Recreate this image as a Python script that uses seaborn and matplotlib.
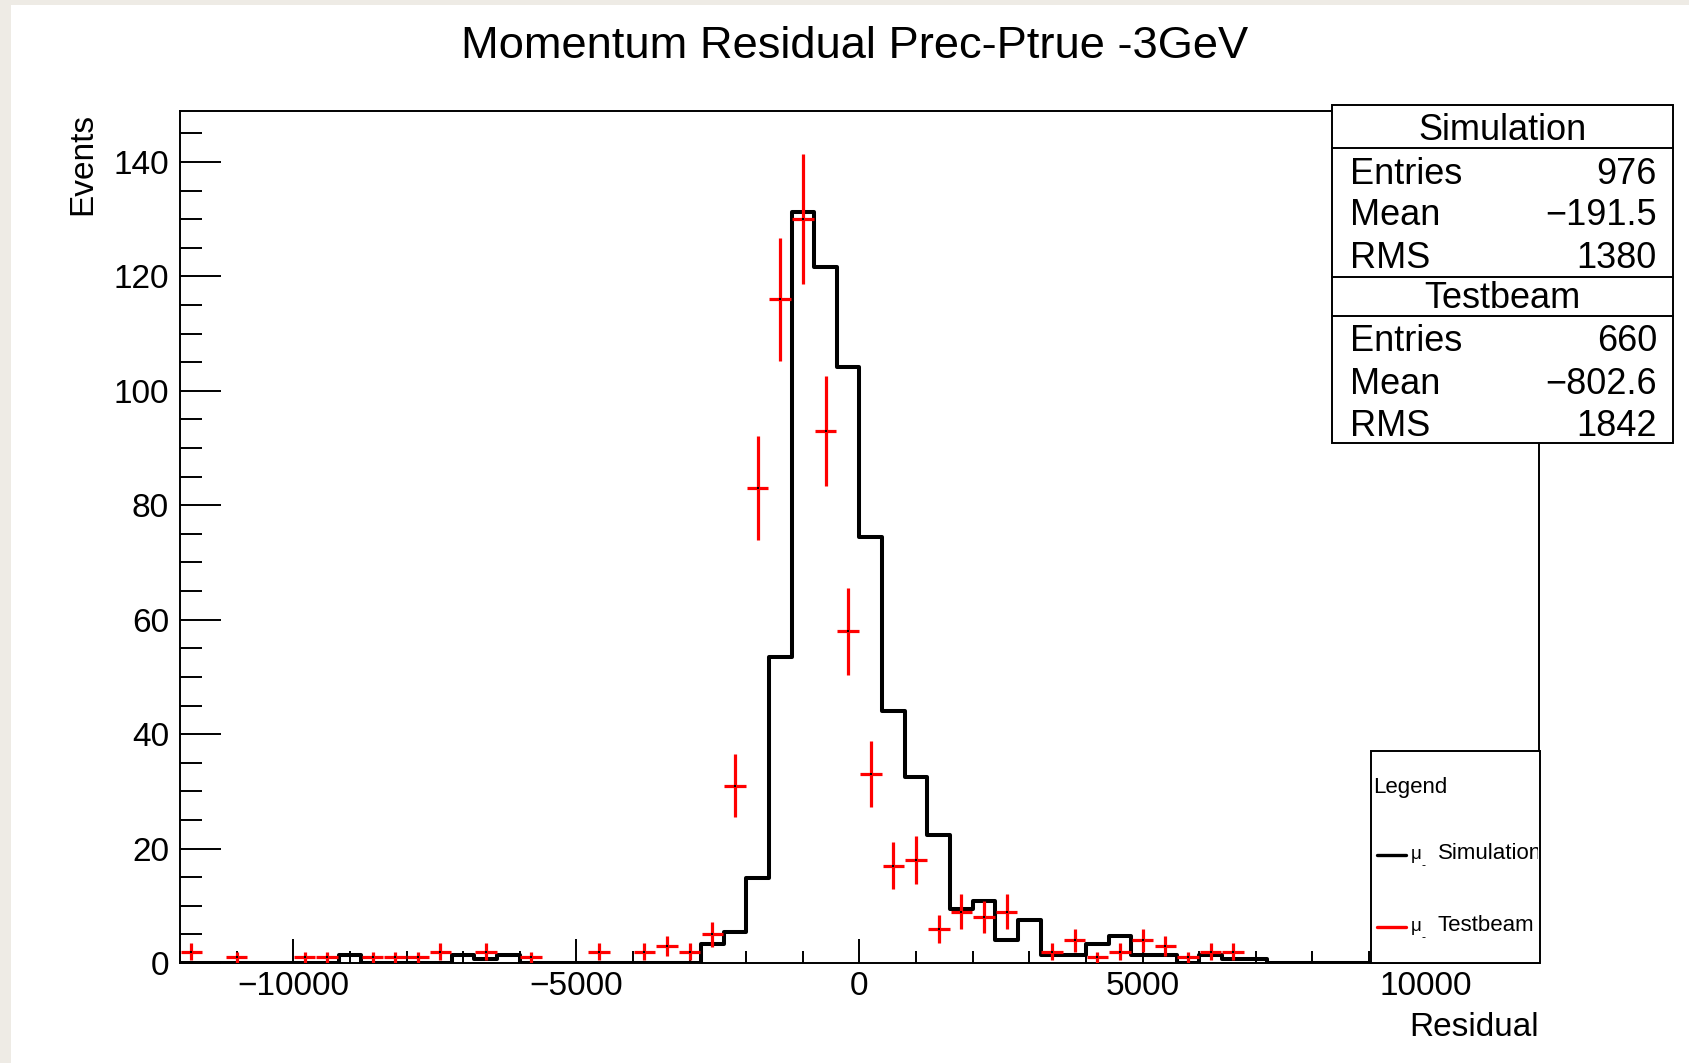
import numpy as np
import pandas as pd
import matplotlib
matplotlib.use("Agg")
import matplotlib.pyplot as plt
from matplotlib.patches import Rectangle
from matplotlib.lines import Line2D
from matplotlib.ticker import MultipleLocator
import seaborn as sns

# ---------------- data ----------------
bin_lo, bin_hi, bin_w = -12000, 12000, 400
sim_counts = [0, 0, 0, 0, 0, 0, 0, 2, 0, 0,
              0, 0, 2, 1, 2, 0, 0, 0, 0, 0,
              0, 0, 0, 5, 8, 22, 79, 194, 180, 154,
              110, 65, 48, 33, 14, 16, 6, 11, 2, 2,
              5, 7, 2, 2, 0, 2, 1, 1, 0, 0,
              0, 0, 0, 0, 0, 0, 0, 0, 0, 0]
tb_counts = [2, 0, 1, 0, 0, 1, 1, 0, 1, 1,
             1, 2, 0, 2, 0, 1, 0, 0, 2, 0,
             2, 3, 2, 5, 31, 83, 116, 130, 93, 58,
             33, 17, 18, 6, 9, 8, 9, 0, 2, 4,
             1, 2, 4, 3, 1, 2, 2, 0, 0, 0,
             0, 0, 0, 0, 0, 0, 0, 0, 0, 0]
sim_entries, tb_entries = 976, 660
stats_sim = [("Entries", "976"), ("Mean", "\u2212191.5"), ("RMS", "1380")]
stats_tb = [("Entries", "660"), ("Mean", "\u2212802.6"), ("RMS", "1842")]
title = "Momentum Residual Prec-Ptrue -3GeV"
xlabel, ylabel = "Residual", "Events"

# ---------------- style ----------------
sns.set_style("ticks")
plt.rcParams["font.family"] = ["Liberation Sans", "DejaVu Sans"]
plt.rcParams["axes.unicode_minus"] = True
for k in ("text.color", "axes.labelcolor", "xtick.color", "ytick.color", "axes.edgecolor"):
    plt.rcParams[k] = "black"

W, H = 1690, 1063
fig = plt.figure(figsize=(W / 100, H / 100), dpi=100)
fig.patch.set_facecolor("white")

def fx(p):
    return p / W

def fy(p):
    return 1 - p / H

# beige screenshot border
fig.patches.append(Rectangle((0, 0), fx(11), 1, transform=fig.transFigure,
                             facecolor="#EEEBE5", edgecolor="none", zorder=0))
fig.patches.append(Rectangle((0, fy(5)), 1, 5 / H, transform=fig.transFigure,
                             facecolor="#EEEBE5", edgecolor="none", zorder=0))

ax_l, ax_r, ax_t, ax_b = 180, 1539, 111, 963
ax = fig.add_axes([fx(ax_l), fy(ax_b), (ax_r - ax_l) / W, (ax_b - ax_t) / H])
ax.set_facecolor("white")

edges = np.arange(bin_lo, bin_hi + bin_w, bin_w)
centers = edges[:-1] + bin_w / 2
sim = np.array(sim_counts, dtype=float)
tb = np.array(tb_counts, dtype=float)
norm = tb_entries / sim_entries

df_sim = pd.DataFrame({"x": centers, "w": sim * norm})
sns.histplot(data=df_sim, x="x", weights="w", bins=edges.tolist(), element="step",
             fill=False, color="black", linewidth=2.9, ax=ax, zorder=2)

nz = tb > 0
ax.errorbar(centers[nz], tb[nz], xerr=190, yerr=np.sqrt(tb[nz]), fmt="none",
            ecolor="red", elinewidth=2.3, capsize=0, zorder=3)
sns.scatterplot(x=centers[nz], y=tb[nz], color="black", s=3, marker="s",
                linewidth=0, ax=ax, zorder=4)

ax.set_xlim(bin_lo, bin_hi)
ax.set_ylim(0, 148.9)
ax.set_xlabel("")
ax.set_ylabel("")
ax.xaxis.set_major_locator(MultipleLocator(5000))
ax.xaxis.set_minor_locator(MultipleLocator(1000))
ax.yaxis.set_major_locator(MultipleLocator(20))
ax.yaxis.set_minor_locator(MultipleLocator(5))
for s in ax.spines.values():
    s.set_visible(True)
    s.set_linewidth(1.4)
    s.set_color("black")
ax.tick_params(axis="x", which="major", direction="in", length=17, width=1.4,
               labelsize=24, pad=6, top=False, colors="black")
ax.tick_params(axis="x", which="minor", direction="in", length=8.6, width=1.4, top=False,
               colors="black")
ax.tick_params(axis="y", which="major", direction="in", length=29.5, width=1.4,
               labelsize=24, pad=8, right=False, colors="black")
ax.tick_params(axis="y", which="minor", direction="in", length=15.5, width=1.4, right=False,
               colors="black")

# titles / labels
fig.text(fx(855), fy(46), title, ha="center", va="center", fontsize=32.6, color="black")
fig.text(fx(83), fy(113), ylabel, rotation=90, ha="center", va="top", fontsize=24, color="black")
fig.text(fx(1539), fy(1036), xlabel, ha="right", va="baseline", fontsize=24, color="black")

# ---------------- legend box (bottom right, inside axes) ----------------
lg_l, lg_r, lg_t, lg_b = 1371, 1540, 751, 963
fig.patches.append(Rectangle((fx(lg_l), fy(lg_b)), (lg_r - lg_l) / W, (lg_b - lg_t) / H,
                             transform=fig.transFigure, facecolor="white",
                             edgecolor="black", linewidth=1.4, zorder=5))
fig.text(fx(1373), fy(787), "Legend", ha="left", va="center", fontsize=16, zorder=6,
         color="black")
for yb, col, name in [(859, "black", "Simulation"), (931, "red", "Testbeam")]:
    fig.lines.append(Line2D([fx(1377), fx(1406)], [fy(yb - 4), fy(yb - 4)],
                            transform=fig.transFigure, color=col, linewidth=2.4, zorder=6))
    fig.text(fx(1411), fy(yb), "\u03bc", ha="left", va="baseline", fontsize=13.5, zorder=6,
             color="black")
    fig.text(fx(1421), fy(yb + 10), "-", ha="left", va="baseline", fontsize=9, zorder=6,
             color="black")
    t = fig.text(fx(1438), fy(yb), name, ha="left", va="baseline", fontsize=16, zorder=6,
                 color="black")
    t.set_clip_box(matplotlib.transforms.Bbox.from_extents(lg_l, H - lg_b, lg_r - 2, H - lg_t))
    t.set_clip_on(True)

# ---------------- stats box (top right) ----------------
sb_l, sb_r, sb_t, sb_b = 1332, 1673, 105, 443
fig.patches.append(Rectangle((fx(sb_l), fy(sb_b)), (sb_r - sb_l) / W, (sb_b - sb_t) / H,
                             transform=fig.transFigure, facecolor="white",
                             edgecolor="black", linewidth=1.4, zorder=5))
for yl in (147.5, 276.5, 316):
    fig.lines.append(Line2D([fx(sb_l), fx(sb_r)], [fy(yl), fy(yl)], transform=fig.transFigure,
                            color="black", linewidth=1.4, zorder=6))
fig.text(fx((sb_l + sb_r) / 2), fy(130), "Simulation", ha="center", va="center",
         fontsize=26, zorder=7, color="black")
fig.text(fx((sb_l + sb_r) / 2), fy(299), "Testbeam", ha="center", va="center",
         fontsize=26, zorder=7, color="black")
for rows, ys in [(stats_sim, (174.5, 216, 259)), (stats_tb, (341.5, 384.5, 427))]:
    for (lab, val), yy in zip(rows, ys):
        fig.text(fx(1350), fy(yy), lab, ha="left", va="center", fontsize=26, zorder=7,
                 color="black")
        fig.text(fx(1657), fy(yy), val, ha="right", va="center", fontsize=26, zorder=7,
                 color="black")

fig.savefig("out.png", dpi=100)
